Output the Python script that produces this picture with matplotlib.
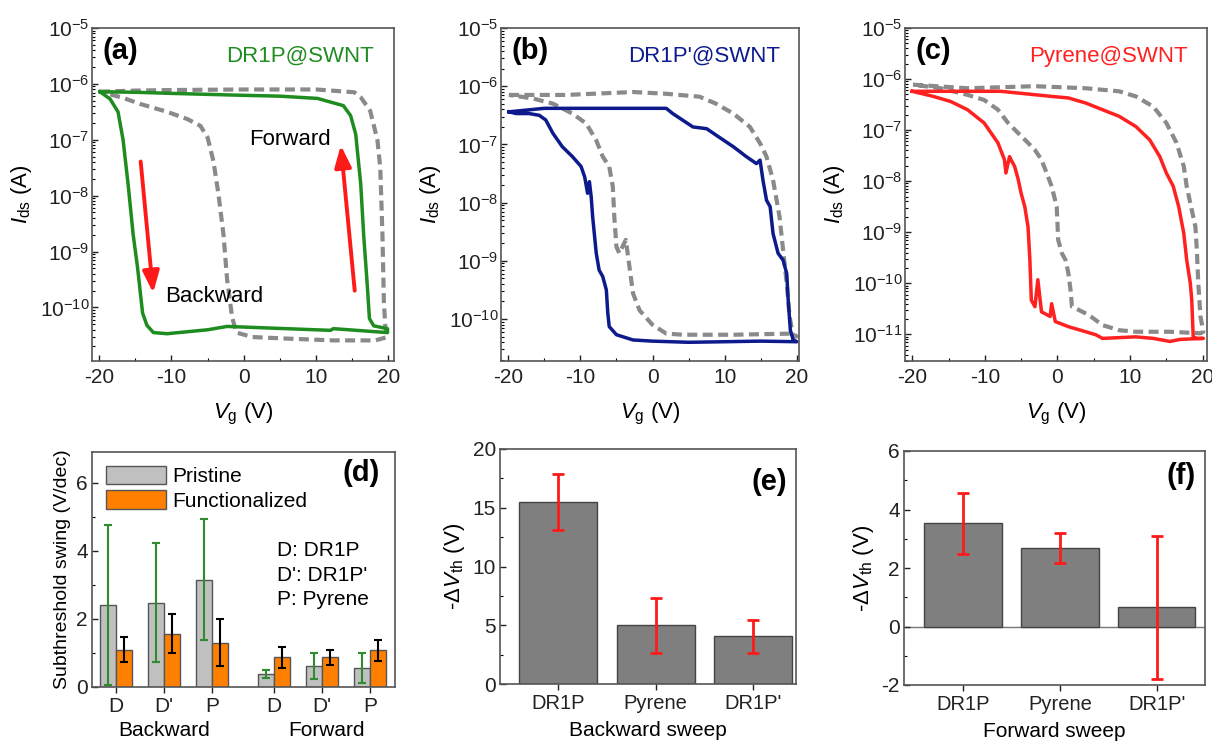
import matplotlib
matplotlib.use("Agg")
import matplotlib.pyplot as plt
import numpy as np
from matplotlib.ticker import MultipleLocator, LogLocator, NullFormatter

plt.rcParams["font.family"] = ["Liberation Sans", "DejaVu Sans"]
plt.rcParams["mathtext.fontset"] = "custom"
plt.rcParams["mathtext.rm"] = "Liberation Sans"
plt.rcParams["mathtext.it"] = "Liberation Sans:italic"
plt.rcParams["mathtext.bf"] = "Liberation Sans:bold"
plt.rcParams["axes.unicode_minus"] = False

# ---- transfer curves, Vg (V) and log10(Ids / A) ----
a_vg = [-19.9, -15, -10, -1.4, 5, 10.2, 13.8, 14.8, 15.5, 16.2, 16.6, 17.1, 17.4, 18.0, 19.9,
        19.9, 12.4, 12.0, -2.3, -5, -10.6, -12.5, -13.4, -14.0, -14.7, -15.3, -16.0, -16.7, -17.4, -18.5, -19.9]
a_log = [-6.14, -6.15, -6.17, -6.2, -6.22, -6.26, -6.39, -6.57, -6.9, -7.8, -8.7, -9.6, -10.2, -10.33, -10.38,
         -10.45, -10.38, -10.41, -10.34, -10.4, -10.47, -10.45, -10.32, -10.1, -9.28, -8.7, -7.8, -7.0, -6.5, -6.27, -6.14]
a0_vg = [-19.9, -15, -10, 0, 10, 15.3, 16.2, 17.5, 18.5, 18.9, 19.2, 19.4, 19.6, 19.9, 18.2, 12.4, 6.4, 1.2,
         -1.0, -1.6, -2.3, -2.8, -3.5, -4.2, -5.0, -6.0, -7.8, -10.6, -14.3, -16.7, -19.9]
a0_log = [-6.14, -6.12, -6.11, -6.1, -6.1, -6.15, -6.24, -6.48, -7.0, -7.5, -8.7, -9.9, -10.35, -10.53, -10.59,
          -10.59, -10.56, -10.53, -10.45, -10.18, -9.5, -8.7, -7.97, -7.38, -6.96, -6.75, -6.63, -6.5, -6.36, -6.25, -6.14]

b_vg = [-19.9, -15, -10, -5, 0, 1.9, 2.8, 5.6, 7.5, 8.8, 11.2, 13.0, 14.4, 14.9, 15.3, 15.8, 16.3, 16.7, 17.4,
        18.1, 18.6, 18.8, 19.1, 19.5, 20.0,
        15, 10, 5, 0, -2.7, -5, -6, -6.2, -6.4, -6.9, -7.4, -7.8, -8.3, -8.5, -8.75, -9.0, -9.4, -9.9, -11.1,
        -12.5, -13.8, -14.8, -15.7, -17.1, -18.9, -19.9]
b_log = [-6.44, -6.38, -6.38, -6.38, -6.38, -6.38, -6.47, -6.7, -6.73, -6.84, -7.04, -7.21, -7.33, -7.27, -7.61,
         -7.96, -8.07, -8.53, -8.87, -8.99, -9.22, -9.67, -10.19, -10.36, -10.39,
         -10.38, -10.39, -10.4, -10.38, -10.36, -10.27, -10.13, -9.9, -9.5, -9.27, -9.16, -8.87, -8.24, -7.9, -7.64,
         -7.84, -7.56, -7.38, -7.21, -7.04, -6.81, -6.58, -6.5, -6.47, -6.47, -6.44]
b0_vg = [-19.9, -12, -2.7, 1.9, 6.5, 8.8, 11.2, 13.5, 14.9, 15.8, 16.7, 17.6, 18.1, 18.6, 19.0, 19.5, 20.0,
         19.5, 11.2, 4.2, 1.9, 0, -1.8, -2.7, -3.2, -3.7, -4.6, -5.0, -5.3, -5.5, -6.0, -6.9, -7.8, -9.2, -11.1,
         -13.8, -16.6, -19.9]
b0_log = [-6.15, -6.15, -6.1, -6.13, -6.18, -6.3, -6.47, -6.7, -6.98, -7.21, -7.61, -8.24, -8.82, -9.39, -9.96,
          -10.3, -10.3, -10.25, -10.27, -10.27, -10.25, -10.1, -9.85, -9.56, -9.1, -8.64, -8.87, -8.76, -8.24,
          -7.73, -7.38, -7.21, -6.93, -6.64, -6.47, -6.3, -6.21, -6.15]

c_vg = [-20, -7.8, -0.8, 1.5, 3.9, 6.2, 8.5, 10.8, 12.7, 14.1, 15.0, 15.95, 16.7, 17.4, 17.8, 18.3, 18.5, 18.7,
        19.2, 20.1,
        16.9, 15.5, 13.2, 10.8, 6.2, 5.3, 3.9, 1.5, -0.3, -0.8, -1.0, -2.2, -2.7, -3.1, -3.6, -3.8, -4.05, -4.5,
        -5.0, -5.4, -5.9, -6.4, -6.6, -7.1, -7.3, -8.2, -10.1, -12.4, -14.7, -17.1, -20]
c_log = [-6.24, -6.24, -6.34, -6.37, -6.47, -6.6, -6.73, -6.93, -7.19, -7.52, -7.84, -8.1, -8.5, -9.02, -9.54,
         -10.0, -10.33, -11.05, -11.08, -11.08,
         -11.1, -11.14, -11.08, -11.05, -11.08, -11.01, -10.95, -10.85, -10.75, -10.4, -10.65, -10.56, -9.93,
         -10.46, -10.33, -9.54, -8.9, -8.5, -8.24, -7.97, -7.71, -7.58, -7.52, -7.84, -7.58, -7.25, -6.86, -6.6,
         -6.44, -6.34, -6.24]
c0_vg = [-19.9, -12.4, -3.1, 3.9, 8.5, 10.8, 13.2, 15.0, 16.4, 17.4, 17.8, 18.3, 19.0, 19.2, 19.4, 19.7, 20.1,
         19.7, 15.5, 10.8, 8.5, 6.2, 4.3, 2.9, 2.0, 1.8, 1.5, 1.1, 0.6, 0.1, -0.1, -0.8, -1.3, -2.2, -3.1, -4.05,
         -5.4, -6.8, -8.2, -10.1, -12.4, -16.1, -19.9]
c0_log = [-6.11, -6.18, -6.14, -6.18, -6.24, -6.34, -6.54, -6.86, -7.25, -7.71, -8.1, -8.43, -8.89, -9.35, -10.0,
          -10.65, -10.95, -10.98, -10.95, -10.95, -10.92, -10.82, -10.62, -10.52, -10.46, -10.13, -9.8, -9.54,
          -9.41, -9.15, -8.5, -8.1, -7.91, -7.58, -7.39, -7.25, -7.06, -6.86, -6.6, -6.41, -6.31, -6.18, -6.11]

# ---- (d) subthreshold swing ----
ss_labels = ["D", "D'", "P", "D", "D'", "P"]
ss_pristine = [2.41, 2.48, 3.15, 0.39, 0.61, 0.56]
ss_pristine_err = [2.35, 1.75, 1.78, 0.12, 0.38, 0.43]
ss_func = [1.10, 1.57, 1.30, 0.87, 0.87, 1.08]
ss_func_err = [0.38, 0.57, 0.69, 0.31, 0.23, 0.31]

# ---- (e), (f) threshold shift ----
vth_labels = ["DR1P", "Pyrene", "DR1P'"]
vth_back = [15.5, 5.0, 4.05]
vth_back_err = [2.4, 2.33, 1.42]
vth_fwd = [3.53, 2.69, 0.65]
vth_fwd_err = [1.04, 0.52, 2.45]

W, H = 1212, 746
fig = plt.figure(figsize=(W / 100, H / 100), dpi=100)


def box(l, t, r, b):
    return [l / W, 1 - b / H, (r - l) / W, (b - t) / H]


GRAY = "#8a8a8a"
SPINE = "#555555"
TFS = 15


def style(ax, size=TFS):
    for s in ax.spines.values():
        s.set_color(SPINE)
        s.set_linewidth(1.2)
    ax.tick_params(labelsize=size, colors="#222222", width=1, length=4, pad=3)
    ax.tick_params(which="minor", length=2.5, width=0.8)


def transfer(rect, vg, lg, vg0, lg0, col, name, tag, ylo, xhi):
    ax = fig.add_axes(rect)
    ax.plot(vg0, 10.0 ** np.array(lg0), color=GRAY, lw=3, ls=(0, (2.4, 1.3)))
    ax.plot(vg, 10.0 ** np.array(lg), color=col, lw=2.5)
    ax.set_yscale("log")
    ax.set_ylim(ylo, 1e-5)
    ax.set_xlim(-21, xhi)
    ax.xaxis.set_major_locator(MultipleLocator(10))
    ax.xaxis.set_minor_locator(MultipleLocator(5))
    ax.yaxis.set_major_locator(LogLocator(base=10, numticks=20))
    ax.yaxis.set_minor_locator(LogLocator(base=10, subs=np.arange(2, 10), numticks=20))
    ax.yaxis.set_minor_formatter(NullFormatter())
    style(ax)
    ax.tick_params(axis="x", which="both", direction="in", pad=5)
    ax.tick_params(axis="y", which="both", direction="in", pad=2)
    ax.set_xlabel(r"$V_{\rm g}$ (V)", fontsize=16, labelpad=10)
    ax.set_ylabel(r"$I_{\rm ds}$ (A)", fontsize=16, labelpad=4)
    ax.text(0.035, 0.93, tag, transform=ax.transAxes, fontsize=21, fontweight="bold", va="center", ha="left")
    ax.text(0.935, 0.915, name, transform=ax.transAxes, fontsize=16, color=col, va="center", ha="right")
    return ax


ax_a = transfer(box(92, 28, 394, 361), a_vg, a_log, a0_vg, a0_log, "#1f8c1f", "DR1P@SWNT", "(a)", 1.1e-11, 20.8)
ax_a.text(0.52, 0.664, "Forward", transform=ax_a.transAxes, fontsize=16, va="center")
ax_a.text(0.243, 0.195, "Backward", transform=ax_a.transAxes, fontsize=16, va="center")
arrow = dict(arrowstyle="-|>,head_width=0.5,head_length=1.3", color="#ff1a1a", lw=2.8)
ax_a.annotate("", xy=(-12.5, 10 ** -9.79), xytext=(-14.3, 10 ** -7.34), arrowprops=arrow)
ax_a.annotate("", xy=(13.4, 10 ** -7.05), xytext=(15.4, 10 ** -9.75), arrowprops=arrow)

transfer(box(501, 28, 799, 361), b_vg, b_log, b0_vg, b0_log, "#0d1a8c", "DR1P'@SWNT", "(b)", 1.9e-11, 20.3)
transfer(box(905, 28, 1207, 361), c_vg, c_log, c0_vg, c0_log, "#ff2020", "Pyrene@SWNT", "(c)", 3e-12, 20.6)

# ---- (d) ----
ax_d = fig.add_axes(box(92, 452, 395, 687))
pos = np.array([1, 2, 3, 4.3, 5.3, 6.3])
bw = 0.33
ax_d.bar(pos - bw / 2, ss_pristine, bw, color="#c0c0c0", edgecolor="#555555", lw=1, label="Pristine")
ax_d.bar(pos + bw / 2, ss_func, bw, color="#ff8000", edgecolor="#555555", lw=1, label="Functionalized")
ax_d.errorbar(pos - bw / 2, ss_pristine, yerr=ss_pristine_err, fmt="none", ecolor="#2e8b2e", elinewidth=1.5,
              capsize=3, capthick=1.5)
ax_d.errorbar(pos + bw / 2, ss_func, yerr=ss_func_err, fmt="none", ecolor="black", elinewidth=1.5,
              capsize=3, capthick=1.5)
ax_d.set_xlim(0.5, 6.82)
ax_d.set_ylim(0, 6.9)
ax_d.set_xticks(pos)
ax_d.set_xticklabels(ss_labels)
ax_d.yaxis.set_major_locator(MultipleLocator(2))
ax_d.yaxis.set_minor_locator(MultipleLocator(1))
style(ax_d)
ax_d.tick_params(axis="x", direction="out")
ax_d.tick_params(axis="y", which="both", direction="in")
ax_d.set_ylabel("Subthreshold swing (V/dec)", fontsize=14, labelpad=4)
ax_d.legend(loc="upper left", frameon=False, fontsize=15, handlelength=2.9, handleheight=1.0,
            borderaxespad=0.25, labelspacing=0.2, handletextpad=0.3, bbox_to_anchor=(0.0, 1.0))
ax_d.text(0.95, 0.91, "(d)", transform=ax_d.transAxes, fontsize=21, fontweight="bold", ha="right", va="center")
ax_d.text(0.61, 0.62, "D: DR1P\nD': DR1P'\nP: Pyrene", transform=ax_d.transAxes, fontsize=15,
          va="top", linespacing=1.35)
tr = matplotlib.transforms.blended_transform_factory(ax_d.transData, ax_d.transAxes)
ax_d.text(pos[:3].mean(), -0.185, "Backward", transform=tr, ha="center", va="center", fontsize=15)
ax_d.text(pos[3:].mean() + 0.1, -0.185, "Forward", transform=tr, ha="center", va="center", fontsize=15)


def vth(rect, vals, errs, ylim, major, minor, xlabel, tag, tagy, xlim):
    ax = fig.add_axes(rect)
    x = np.arange(1, len(vals) + 1)
    ax.bar(x, vals, 0.8, color="#7f7f7f", edgecolor="#444444", lw=1)
    ax.errorbar(x, vals, yerr=errs, fmt="none", ecolor="#ff1a1a", elinewidth=2, capsize=4, capthick=2)
    ax.set_xlim(*xlim)
    ax.set_ylim(*ylim)
    ax.set_xticks(x)
    ax.set_xticklabels(vth_labels)
    ax.yaxis.set_major_locator(MultipleLocator(major))
    ax.yaxis.set_minor_locator(MultipleLocator(minor))
    style(ax, 15)
    ax.tick_params(axis="x", direction="out", labelsize=14.5)
    ax.tick_params(axis="y", which="both", direction="in")
    ax.set_ylabel(r"-$\Delta V_{\rm th}$ (V)", fontsize=16, labelpad=4)
    ax.set_xlabel(xlabel, fontsize=15, labelpad=6)
    ax.text(0.97, tagy, tag, transform=ax.transAxes, fontsize=21, fontweight="bold", ha="right", va="center")
    return ax


vth(box(500, 449, 796, 684), vth_back, vth_back_err, (0, 20), 5, 2.5, "Backward sweep", "(e)", 0.86, (0.4, 3.44))
ax_f = vth(box(904, 451, 1205, 685), vth_fwd, vth_fwd_err, (-2, 6), 2, 1, "Forward sweep", "(f)", 0.895,
           (0.39, 3.5))
ax_f.axhline(0, color="#777777", lw=1, zorder=0.5)

fig.savefig("out.png", dpi=100)
